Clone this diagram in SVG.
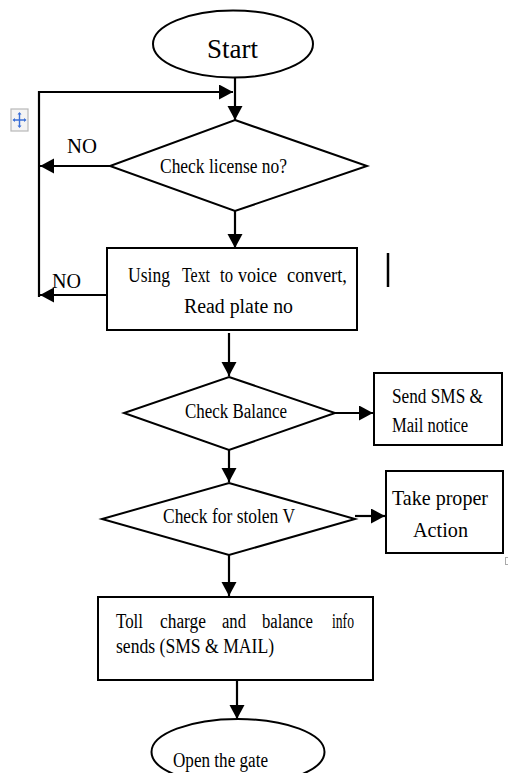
<svg xmlns="http://www.w3.org/2000/svg" width="508" height="773" viewBox="0 0 508 773">
<style>
.shape{fill:#fff;stroke:#000;stroke-width:2}
.conn{fill:none;stroke:#000;stroke-width:2.2}
text{font-family:"Liberation Serif","Times New Roman",serif;fill:#000}
.t20{font-size:20px}
</style>
<defs>
<marker id="ah" markerUnits="userSpaceOnUse" markerWidth="16" markerHeight="16" refX="14" refY="7.5" orient="auto">
<path d="M0,0 L14,7.5 L0,15 z" fill="#000"/>
</marker>
</defs>
<rect width="508" height="773" fill="#fff"/>

<g id="move-handle">
<rect x="11" y="109" width="17" height="22" fill="#f4f4f4" stroke="#b8b8b8" stroke-width="1.2"/>
<path d="M19.5,113 V127 M13.5,120 H25.5" stroke="#3b6fd6" stroke-width="1.4" fill="none"/>
<path d="M19.5,112 l-2,2.5 h4 z M19.5,128 l-2,-2.5 h4 z M12.5,120 l2.5,-2 v4 z M26.5,120 l-2.5,-2 v4 z" fill="#3b6fd6"/>
</g>

<g id="connectors">
<line class="conn" x1="235" y1="78" x2="235" y2="120" marker-end="url(#ah)"/>
<polyline class="conn" points="39,297 39,92 233,92" marker-end="url(#ah)"/>
<line class="conn" x1="110" y1="166" x2="40" y2="166" marker-end="url(#ah)"/>
<line class="conn" x1="235" y1="211" x2="235" y2="248" marker-end="url(#ah)"/>
<line class="conn" x1="107" y1="295" x2="40" y2="295" marker-end="url(#ah)"/>
<line class="conn" x1="229" y1="333" x2="229" y2="376" marker-end="url(#ah)"/>
<line class="conn" x1="335" y1="413" x2="373" y2="413" marker-end="url(#ah)"/>
<line class="conn" x1="229" y1="450" x2="229" y2="482" marker-end="url(#ah)"/>
<line class="conn" x1="355" y1="516" x2="385" y2="516" marker-end="url(#ah)"/>
<line class="conn" x1="229" y1="555" x2="229" y2="596" marker-end="url(#ah)"/>
<line class="conn" x1="237" y1="681" x2="237" y2="719" marker-end="url(#ah)"/>
</g>

<g id="start">
<ellipse class="shape" cx="233" cy="44" rx="80" ry="33.5"/>
<text x="232.5" y="58" font-size="28" text-anchor="middle" textLength="51" lengthAdjust="spacingAndGlyphs">Start</text>
</g>

<g id="check-license">
<polygon class="shape" points="235,120 367,166 235,211 110,166"/>
<text class="t20" x="160" y="173" textLength="127" lengthAdjust="spacingAndGlyphs">Check license no?</text>
</g>

<g id="label-no-1">
<text x="67" y="153" font-size="21" textLength="30" lengthAdjust="spacingAndGlyphs">NO</text>
</g>

<g id="read-plate">
<rect class="shape" x="107" y="248" width="250" height="82"/>
<text class="t20" y="282"><tspan x="128" textLength="42" lengthAdjust="spacingAndGlyphs">Using</tspan><tspan x="182" textLength="28" lengthAdjust="spacingAndGlyphs">Text</tspan><tspan x="220" textLength="13" lengthAdjust="spacingAndGlyphs">to</tspan><tspan x="238" textLength="39" lengthAdjust="spacingAndGlyphs">voice</tspan><tspan x="287" textLength="60" lengthAdjust="spacingAndGlyphs">convert,</tspan></text>
<text class="t20" x="184" y="313" textLength="109" lengthAdjust="spacingAndGlyphs">Read plate no</text>
</g>

<g id="label-no-2">
<text x="52" y="288" font-size="21" textLength="29" lengthAdjust="spacingAndGlyphs">NO</text>
</g>

<g id="cursor-mark">
<line x1="388" y1="253" x2="388" y2="287" stroke="#000" stroke-width="2.5"/>
</g>

<g id="check-balance">
<polygon class="shape" points="229,377 335,413 229,450 124,413"/>
<text class="t20" x="185" y="418" textLength="102" lengthAdjust="spacingAndGlyphs">Check Balance</text>
</g>

<g id="send-sms">
<rect class="shape" x="374" y="373" width="128" height="72"/>
<text class="t20" x="392" y="403" textLength="91" lengthAdjust="spacingAndGlyphs">Send SMS &amp;</text>
<text class="t20" x="392" y="432" textLength="76" lengthAdjust="spacingAndGlyphs">Mail notice</text>
</g>

<g id="check-stolen">
<polygon class="shape" points="229,483 355,519 229,555 102,519"/>
<text class="t20" x="163" y="523" textLength="132" lengthAdjust="spacingAndGlyphs">Check for stolen V</text>
</g>

<g id="take-action">
<rect class="shape" x="386" y="471" width="117" height="82"/>
<text x="392" y="505" font-size="22" textLength="96" lengthAdjust="spacingAndGlyphs">Take proper</text>
<text x="413" y="537" font-size="22" textLength="55" lengthAdjust="spacingAndGlyphs">Action</text>
</g>

<g id="corner-mark">
<rect x="505.5" y="557.5" width="4" height="7" fill="none" stroke="#aaa" stroke-width="1"/>
</g>

<g id="toll-info">
<rect class="shape" x="98" y="597" width="275" height="83"/>
<text class="t20" y="628"><tspan x="116" textLength="27" lengthAdjust="spacingAndGlyphs">Toll</tspan><tspan x="160" textLength="46" lengthAdjust="spacingAndGlyphs">charge</tspan><tspan x="222" textLength="24" lengthAdjust="spacingAndGlyphs">and</tspan><tspan x="262" textLength="51" lengthAdjust="spacingAndGlyphs">balance</tspan><tspan x="332" textLength="22" lengthAdjust="spacingAndGlyphs">info</tspan></text>
<text class="t20" x="116" y="653" textLength="158" lengthAdjust="spacingAndGlyphs">sends (SMS &amp; MAIL)</text>
</g>

<g id="open-gate">
<ellipse class="shape" cx="238" cy="752" rx="86.5" ry="33"/>
<text class="t20" x="173" y="767" textLength="95" lengthAdjust="spacingAndGlyphs">Open the gate</text>
</g>
</svg>
